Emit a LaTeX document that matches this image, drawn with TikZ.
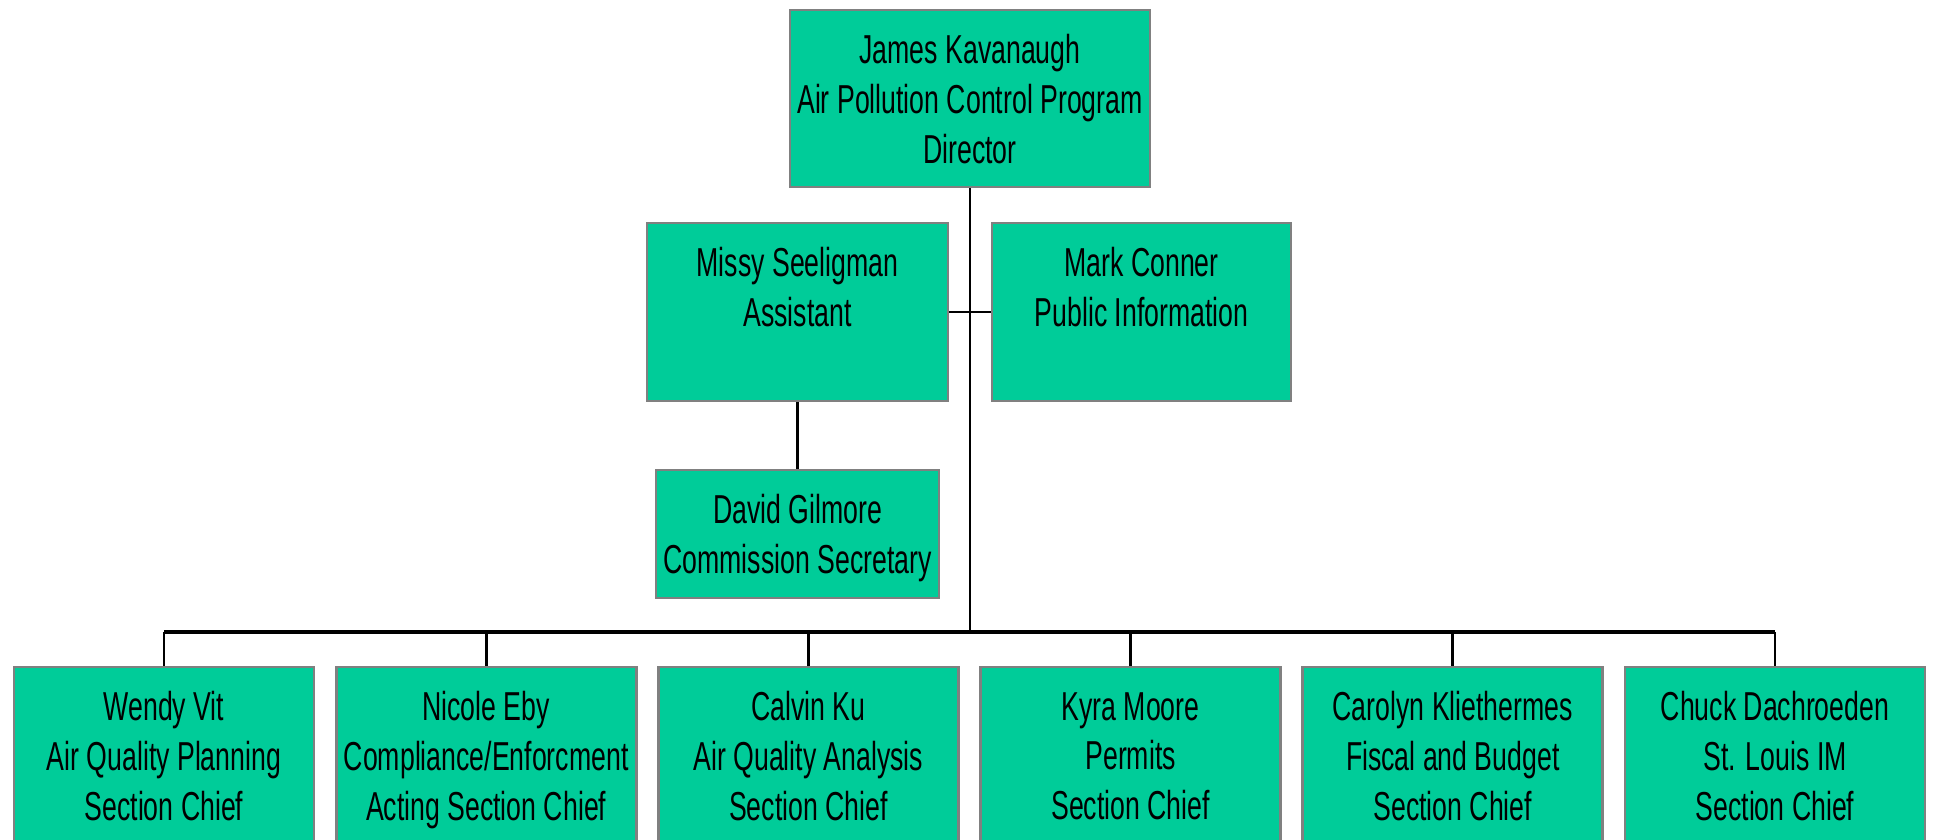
\documentclass[tikz,border=0pt]{standalone}
\usepackage{fontspec}
\setmainfont{Liberation Sans}[FakeStretch=0.66]
\usepackage{xcolor}
\usepackage{tikz}
\definecolor{staffgreen}{RGB}{0,204,153}
\definecolor{staffedge}{RGB}{128,128,128}
\tikzset{
  staffbox/.style={draw=staffedge,line width=0.75pt,fill=staffgreen,align=center,
    inner sep=0pt,font=\fontsize{11.5}{14.2}\selectfont,text depth=0pt},
  orgline/.style={line width=0.75pt,black}
}

\begin{document}
\begin{tikzpicture}
\useasboundingbox (0,0) rectangle (19.33,-8.40);
  \node[staffbox,minimum width=3.60cm,minimum height=1.77cm] (dir) at (9.70,-0.985)
    {James Kavanaugh\\Air Pollution Control Program\\Director};
  \node[staffbox,minimum width=3.01cm,minimum height=1.78cm] (asst) at (7.975,-3.12)
    {Missy Seeligman\\Assistant\\~};
  \node[staffbox,minimum width=2.99cm,minimum height=1.78cm] (pubinfo) at (11.415,-3.12)
    {Mark Conner\\Public Information\\~};
  \node[staffbox,minimum width=2.83cm,minimum height=1.28cm] (comsec) at (7.975,-5.34)
    {David Gilmore\\Commission Secretary};
  \coordinate (bus) at (9.70,-6.32);
  \node[staffbox,minimum width=3.00cm,minimum height=1.78cm] (aqp) at (1.64,-7.56)
    {Wendy Vit\\Air Quality Planning\\Section Chief};
  \node[staffbox,minimum width=3.00cm,minimum height=1.78cm] (compl) at (4.862,-7.56)
    {Nicole Eby\\Compliance/Enforcment\\Acting Section Chief};
  \node[staffbox,minimum width=3.00cm,minimum height=1.78cm] (aqa) at (8.084,-7.56)
    {Calvin Ku\\Air Quality Analysis\\Section Chief};
  \node[staffbox,minimum width=3.00cm,minimum height=1.78cm] (perm) at (11.306,-7.56)
    {Kyra Moore\\Permits\\Section Chief};
  \node[staffbox,minimum width=3.00cm,minimum height=1.78cm] (fisc) at (14.528,-7.56)
    {Carolyn Kliethermes\\Fiscal and Budget\\Section Chief};
  \node[staffbox,minimum width=3.00cm,minimum height=1.78cm] (stl) at (17.75,-7.56)
    {Chuck Dachroeden\\St. Louis IM\\Section Chief};
  \draw[orgline] (dir.south) -- (bus);
  \draw[orgline] (asst.east) -- (pubinfo.west);
  \draw[orgline] (asst.south) -- (comsec.north);
  \draw[orgline,line width=1pt] (aqp.north |- bus) -- (stl.north |- bus);
  \draw[orgline] (aqp.north) -- (aqp.north |- bus);
  \draw[orgline] (compl.north) -- (compl.north |- bus);
  \draw[orgline] (aqa.north) -- (aqa.north |- bus);
  \draw[orgline] (perm.north) -- (perm.north |- bus);
  \draw[orgline] (fisc.north) -- (fisc.north |- bus);
  \draw[orgline] (stl.north) -- (stl.north |- bus);
\end{tikzpicture}
\end{document}
